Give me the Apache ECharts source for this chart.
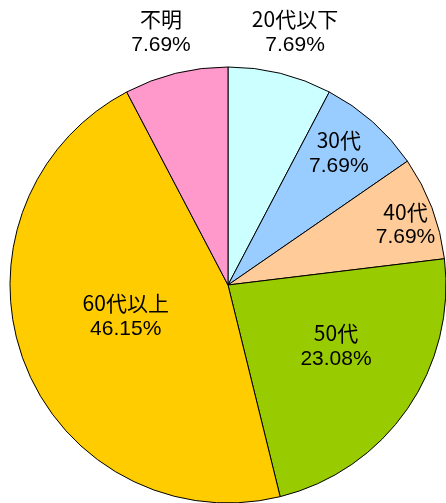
<!DOCTYPE html>
<html><head><meta charset="utf-8">
<script src="https://cdn.jsdelivr.net/npm/echarts@6/dist/echarts.min.js"></script>
<style>html,body{margin:0;padding:0;background:#fff}#c{width:446px;height:503px}</style>
</head><body><div id="c"></div>
<script>
const categories = ['20代以下', '30代', '40代', '50代', '60代以上', '不明'];
const values = [1, 1, 1, 3, 6, 1];
const percents = ['7.69%', '7.69%', '7.69%', '23.08%', '46.15%', '7.69%'];
const colors = ['#CCFFFF', '#99CCFF', '#FFCC99', '#99CC00', '#FFCC00', '#FF99CC'];
// label placement (fraction of radius, angle offset deg)
const labelRadius = [1.2, 0.79, 0.86, 0.57, 0.49, 1.2];
const labelAngleShift = [-1, 1.5, -2, 5, -4, 1];

const CX = 228, CY = 285, R = 218;
const total = values.reduce((a, b) => a + b, 0);
const midAngles = [];
let acc = 0;
values.forEach(v => { midAngles.push(90 - (acc + v / 2) / total * 360); acc += v; });

const chart = echarts.init(document.getElementById('c'));
chart.setOption({
  animation: false,
  series: [{
    type: 'pie',
    center: [CX, CY],
    radius: [0, R],
    startAngle: 90,
    clockwise: true,
    avoidLabelOverlap: false,
    data: categories.map((c, i) => ({ name: c, value: values[i], itemStyle: { color: colors[i] } })),
    itemStyle: { borderColor: '#000', borderWidth: 1 },
    label: {
      show: true,
      position: 'inside',
      formatter: p => '{n|' + p.name + '}\n{p|' + percents[p.dataIndex] + '}',
      color: '#000',
      align: 'center',
      rich: {
        n: { fontSize: 21, lineHeight: 26, fontFamily: 'Noto Sans CJK JP', color: '#000' },
        p: { fontSize: 21, lineHeight: 26, fontFamily: 'Liberation Sans', color: '#000' }
      }
    },
    labelLine: { show: false },
    labelLayout: p => {
      const i = p.dataIndex;
      const a = (midAngles[i] + labelAngleShift[i]) * Math.PI / 180;
      const r = R * labelRadius[i];
      return { x: CX + r * Math.cos(a), y: CY - r * Math.sin(a), align: 'center', verticalAlign: 'middle' };
    }
  }]
});
</script></body></html>
